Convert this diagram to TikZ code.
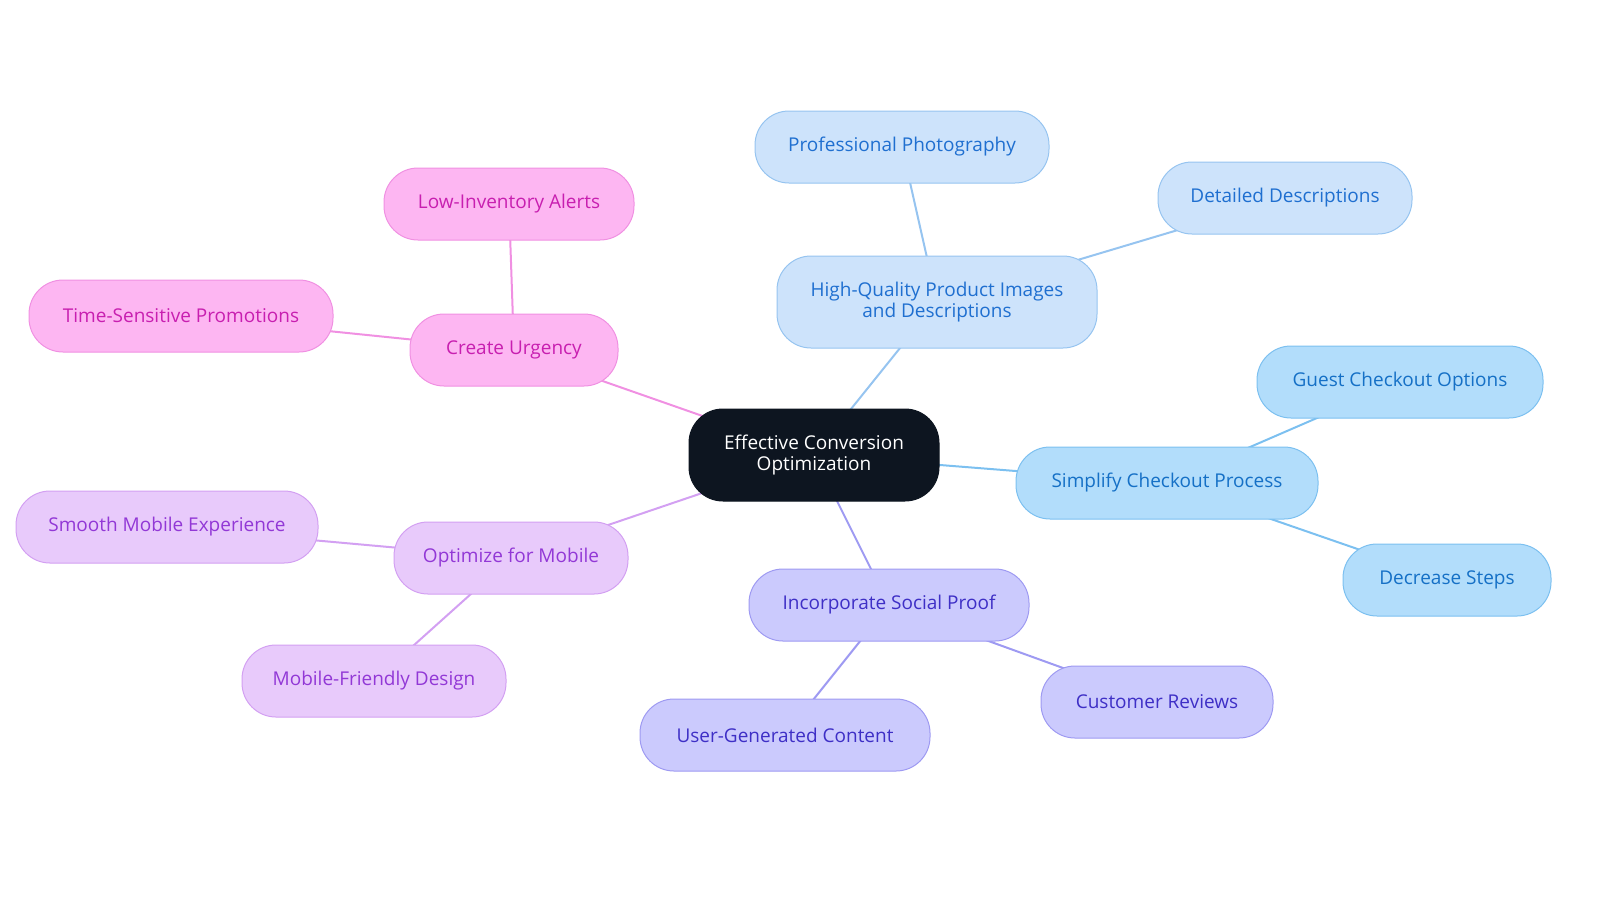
\documentclass[tikz,border=0pt]{standalone}
\usepackage{fontspec}
\setmainfont{Open Sans}
\usetikzlibrary{backgrounds}
\definecolor{pinkF}{HTML}{FDB6F2}\definecolor{pinkD}{HTML}{F090E2}\definecolor{pinkT}{HTML}{C81FB0}
\definecolor{purF}{HTML}{E8CAFB}\definecolor{purD}{HTML}{D3A0F2}\definecolor{purT}{HTML}{9238D6}
\definecolor{ltF}{HTML}{CDE3FB}\definecolor{ltD}{HTML}{96C4F0}\definecolor{ltT}{HTML}{1F6FD0}
\definecolor{skF}{HTML}{B2DDFB}\definecolor{skD}{HTML}{7CC0F0}\definecolor{skT}{HTML}{1570C6}
\definecolor{vF}{HTML}{CBCAFD}\definecolor{vD}{HTML}{9E9AF2}\definecolor{vT}{HTML}{3E2FC6}
\definecolor{dark}{HTML}{0D1520}
\tikzset{
 b/.style={rounded corners=34pt,line width=1pt,align=center,inner sep=0pt,font=\fontsize{19}{21}\selectfont},
 pk/.style={b,fill=pinkF,draw=pinkD,text=pinkT},
 pu/.style={b,fill=purF,draw=purD,text=purT},
 lt/.style={b,fill=ltF,draw=ltD,text=ltT},
 sk/.style={b,fill=skF,draw=skD,text=skT},
 vi/.style={b,fill=vF,draw=vD,text=vT},
 e/.style={line width=2pt}
}
\begin{document}
\begin{tikzpicture}[x=1pt,y=-1pt]
\useasboundingbox (0,0) rectangle (1600,903);
\node[b,fill=dark,draw=dark,text=white,minimum width=250pt,minimum height=92pt] (c) at (814,455) {Effective Conversion\\Optimization};
\node[pk,minimum width=208pt,minimum height=72pt] (cu) at (514,350) {Create Urgency};
\node[pk,minimum width=250pt,minimum height=72pt] (li) at (509,204) {Low-Inventory Alerts};
\node[pk,minimum width=304pt,minimum height=72pt] (ts) at (181,316) {Time-Sensitive Promotions};
\node[pu,minimum width=234pt,minimum height=72pt] (om) at (511,558) {Optimize for Mobile};
\node[pu,minimum width=302pt,minimum height=72pt] (sm) at (167,527) {Smooth Mobile Experience};
\node[pu,minimum width=264pt,minimum height=72pt] (mf) at (374,681) {Mobile-Friendly Design};
\node[lt,minimum width=320pt,minimum height=92pt] (hq) at (937,302) {High-Quality Product Images\\and Descriptions};
\node[lt,minimum width=294pt,minimum height=72pt] (pp) at (902,147) {Professional Photography};
\node[lt,minimum width=254pt,minimum height=72pt] (dd) at (1285,198) {Detailed Descriptions};
\node[sk,minimum width=302pt,minimum height=72pt] (sc) at (1167,483) {Simplify Checkout Process};
\node[sk,minimum width=286pt,minimum height=72pt] (gc) at (1400,382) {Guest Checkout Options};
\node[sk,minimum width=208pt,minimum height=72pt] (ds) at (1447,580) {Decrease Steps};
\node[vi,minimum width=280pt,minimum height=72pt] (sp) at (889,605) {Incorporate Social Proof};
\node[vi,minimum width=232pt,minimum height=72pt] (cr) at (1157,702) {Customer Reviews};
\node[vi,minimum width=290pt,minimum height=72pt] (ug) at (785,735) {User-Generated Content};
\begin{scope}[on background layer]
\draw[e,pinkD] (c.center)--(cu.center) (cu.center)--(li.center) (cu.center)--(ts.center);
\draw[e,purD] (c.center)--(om.center) (om.center)--(sm.center) (om.center)--(mf.center);
\draw[e,ltD] (c.center)--(hq.center) (hq.center)--(pp.center) (hq.center)--(dd.center);
\draw[e,skD] (c.center)--(sc.center) (sc.center)--(gc.center) (sc.center)--(ds.center);
\draw[e,vD] (c.center)--(sp.center) (sp.center)--(cr.center) (sp.center)--(ug.center);
\end{scope}
\end{tikzpicture}
\end{document}
